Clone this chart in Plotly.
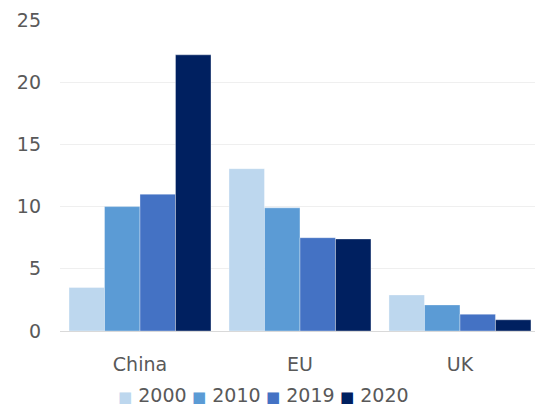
import plotly.graph_objects as go

categories = ["China", "EU", "UK"]
years = ["2000", "2010", "2019", "2020"]
v2000 = [3.5, 13.05, 2.9]
v2010 = [10.0, 9.9, 2.1]
v2019 = [11.0, 7.5, 1.35]
v2020 = [22.2, 7.4, 0.9]
colors = ["#BDD7EE", "#5B9BD5", "#4472C4", "#002060"]

fig = go.Figure()
for name, vals, c in zip(years, [v2000, v2010, v2019, v2020], colors):
    fig.add_trace(go.Bar(x=categories, y=vals, name=name, showlegend=False,
                         marker=dict(color=c, line=dict(color="rgba(255,255,255,0.5)", width=0.7))))

font = dict(family="DejaVu Sans", size=19, color="#595959")

# legend drawn as text entries
L, PW, PB, PH = 60, 475, 331, 311
for i, (name, c) in enumerate(zip(years, colors)):
    px = 116 + 74 * i
    fig.add_annotation(
        x=(px - L) / PW, y=(PB - 395) / PH, xref="paper", yref="paper",
        xanchor="left", yanchor="middle", showarrow=False,
        text=f"<span style='color:{c};font-size:15px'>■</span> {name}",
        font=font,
    )

fig.update_layout(
    width=535, height=406,
    margin=dict(l=60, r=0, t=20, b=75, autoexpand=False),
    plot_bgcolor="white", paper_bgcolor="white",
    barmode="group", bargap=0.1125, bargroupgap=0,
    font=font,
    showlegend=False,
    xaxis=dict(range=[-0.5, 2.469], showgrid=False, showline=True, linecolor="#D9D9D9",
               linewidth=1, ticks="", ticklabelstandoff=16, tickfont=font),
    yaxis=dict(range=[0, 25], dtick=5, showgrid=True, gridcolor="#EFEFEF", gridwidth=1,
               zeroline=False, showline=False, ticks="", ticklabelstandoff=18, tickfont=font),
)
fig.write_html("out.html")
